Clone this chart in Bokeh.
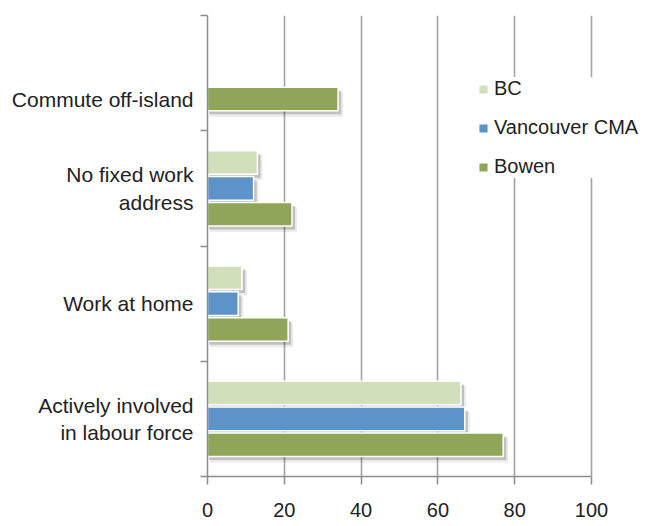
from bokeh.plotting import figure
from bokeh.models import Range1d, FixedTicker, Legend, LegendItem
from bokeh.embed import file_html
from bokeh.resources import INLINE
import math

# categories, top to bottom as shown
categories = ["Commute off-island", "No fixed work address", "Work at home",
              "Actively involved in labour force"]
tick_labels = ["Commute off-island", "No fixed work\naddress", "Work at home",
               "Actively involved\nin labour force"]
series = ["BC", "Vancouver CMA", "Bowen"]
bc = [float("nan"), 13, 9, 66]
vancouver = [float("nan"), 12, 8, 67]
bowen = [34, 22, 21, 77]
x_ticks = [0, 20, 40, 60, 80, 100]

colors = ["#d2dfbb", "#5c94c9", "#8fa65a"]
offsets = [0.225, 0.0, -0.225]
values = [bc, vancouver, bowen]

n = len(categories)
centers = [n - 1 - i + 0.5 for i in range(n)]

# label position: middle of the bars that are present in each category
label_pos = []
for i, c in enumerate(centers):
    present = [c + off for vals, off in zip(values, offsets) if not math.isnan(vals[i])]
    label_pos.append(sum(present) / len(present))

FONT = "Liberation Sans"
p = figure(width=649, height=526, output_backend="svg", toolbar_location=None,
           x_range=Range1d(0, 115.1), y_range=Range1d(0, n),
           min_border_left=207, min_border_right=0, min_border_top=15,
           min_border_bottom=50)
p.outline_line_color = None
p.background_fill_color = "white"
p.border_fill_color = "white"

# grid
p.ygrid.grid_line_color = None
p.xgrid.ticker = FixedTicker(ticks=x_ticks[1:])
p.xgrid.grid_line_color = "#a3a3a3"
p.xgrid.grid_line_width = 1.6

bar_h = 0.205
renderers = []
for vals, col, off in zip(values, colors, offsets):
    ys = [c + off for c in centers]
    # soft drop shadow
    p.hbar(y=[y - 0.045 for y in ys], left=0.6, right=[v + 1.3 for v in vals],
           height=bar_h + 0.01, fill_color="black", fill_alpha=0.08, line_color=None)
    p.hbar(y=[y - 0.03 for y in ys], left=0.4, right=[v + 0.8 for v in vals],
           height=bar_h, fill_color="black", fill_alpha=0.18, line_color=None)
    r = p.hbar(y=ys, left=0, right=vals, height=bar_h, fill_color=col,
               line_color="white", line_width=1.5)
    renderers.append(r)

# axes
p.yaxis.ticker = FixedTicker(ticks=label_pos, minor_ticks=list(range(n + 1)))
p.yaxis.major_label_overrides = {lp: t for lp, t in zip(label_pos, tick_labels)}
p.yaxis.major_tick_line_color = None
p.yaxis.major_tick_out = 0
p.yaxis.major_tick_in = 0
p.yaxis.minor_tick_out = 7
p.yaxis.minor_tick_in = 0
p.yaxis.minor_tick_line_color = "#8c8c8c"
p.yaxis.minor_tick_line_width = 1.5
p.yaxis.major_label_standoff = 7
p.yaxis.major_label_text_align = "right"
p.yaxis.major_label_text_font_size = "21px"

p.xaxis.ticker = FixedTicker(ticks=x_ticks)
p.xaxis.bounds = (x_ticks[0], x_ticks[-1])
p.xaxis.major_tick_out = 8
p.xaxis.major_tick_in = 0
p.xaxis.minor_tick_line_color = None
p.xaxis.major_label_standoff = 18
p.xaxis.major_tick_line_color = "#8c8c8c"
p.xaxis.major_label_text_font_size = "20px"

for ax in (p.xaxis[0], p.yaxis[0]):
    ax.axis_line_color = "#8c8c8c"
    ax.axis_line_width = 1.5
    ax.major_tick_line_width = 1.5
    ax.major_label_text_font = FONT
    ax.major_label_text_color = "#222222"

legend = Legend(items=[LegendItem(label=s, renderers=[r]) for s, r in zip(series, renderers)],
                location=(270, 298), orientation="vertical")
legend.glyph_width = 12
legend.glyph_height = 12
legend.label_height = 20
legend.spacing = 16
legend.label_standoff = 5
legend.padding = 10
legend.margin = 0
legend.border_line_color = None
legend.background_fill_color = "white"
legend.background_fill_alpha = 1.0
legend.label_text_font = FONT
legend.label_text_font_size = "20px"
legend.label_text_color = "#222222"
p.add_layout(legend, "center")

open("out.html", "w").write(file_html(p, INLINE))
